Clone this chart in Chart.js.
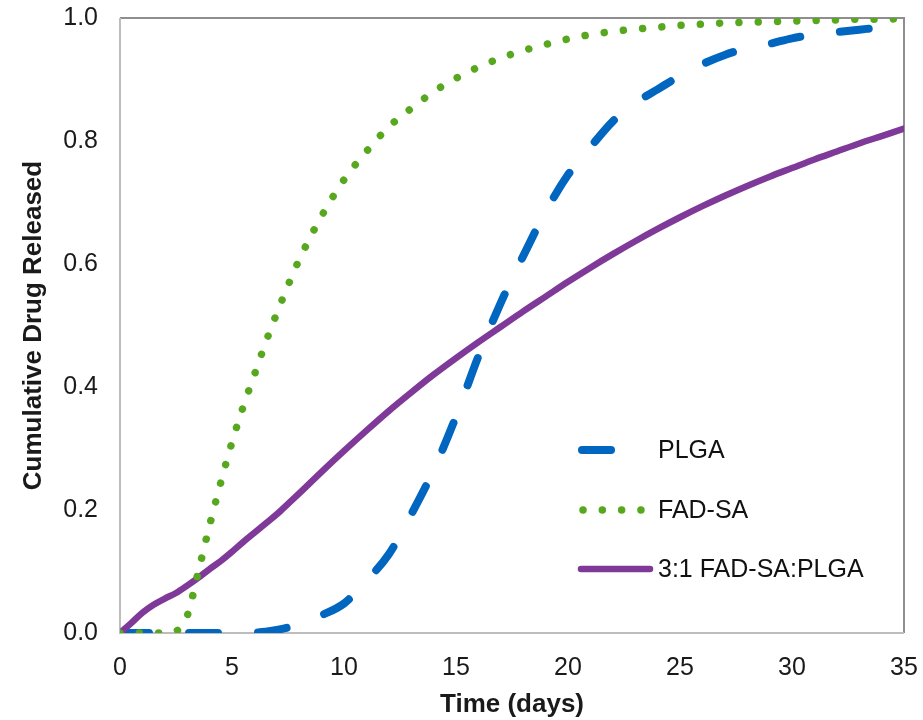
<!DOCTYPE html>
<html>
<head>
<meta charset="utf-8">
<title>Cumulative Drug Released</title>
<script src="https://cdn.jsdelivr.net/npm/chart.js"></script>
<style>
    html, body { margin: 0; padding: 0; background: #fff; }
    #wrap { width: 923px; height: 720px; }
</style>
</head>
<body>
<div id="wrap"><canvas id="releaseChart" width="923" height="720"></canvas></div>
<script>
// days sampled (half days while the curves bend fast)
const days = [0, 0.5, 1, 1.5, 2, 2.5, 3, 3.5, 4, 4.5, 5, 5.5, 6, 6.5, 7, 7.5, 8,
    9, 10, 11, 12, 13, 14, 15, 16, 17, 18, 19, 20, 21, 22, 23, 24, 25, 26, 27,
    28, 29, 30, 31, 32, 33, 34, 35];

const plga = [0, 0, 0, 0, 0, 0, 0, 0, 0, 0, 0, 0, 0.0005, 0.002, 0.005, 0.009, 0.015,
    0.029, 0.048, 0.085, 0.128, 0.193, 0.265, 0.352, 0.45, 0.537, 0.613, 0.685, 0.745,
    0.79, 0.832, 0.862, 0.884, 0.906, 0.925, 0.94, 0.951, 0.958, 0.967, 0.973, 0.977,
    0.981, 0.985, 0.99];

const fadSa = [0, 0, 0, 0, 0, 0.003, 0.028, 0.1, 0.175, 0.245, 0.31, 0.368, 0.42, 0.472,
    0.52, 0.565, 0.607, 0.678, 0.737, 0.783, 0.823, 0.853, 0.88, 0.902, 0.92, 0.935,
    0.947, 0.957, 0.966, 0.973, 0.978, 0.982, 0.985, 0.988, 0.99, 0.992, 0.993, 0.994,
    0.995, 0.996, 0.997, 0.998, 0.998, 0.999];

const blend = [0, 0.016, 0.033, 0.046, 0.056, 0.065, 0.077, 0.09, 0.104, 0.117, 0.132,
    0.148, 0.163, 0.178, 0.193, 0.21, 0.227, 0.262, 0.296, 0.329, 0.361, 0.391, 0.42,
    0.447, 0.473, 0.498, 0.523, 0.547, 0.571, 0.594, 0.616, 0.637, 0.657, 0.676, 0.694,
    0.711, 0.727, 0.742, 0.756, 0.77, 0.783, 0.796, 0.808, 0.82];

const seriesNames = ['PLGA', 'FAD-SA', '3:1 FAD-SA:PLGA'];
const xTicks = [0, 5, 10, 15, 20, 25, 30, 35];
const yTicks = [0, 0.2, 0.4, 0.6, 0.8, 1.0];

const toPoints = vals => days.map((d, i) => ({ x: d, y: vals[i] }));

Chart.defaults.font.family = '"Liberation Sans", Arial, sans-serif';
Chart.defaults.color = '#1a1a1a';

// plot box, drawn under the curves
const frame = {
    id: 'frame',
    beforeDatasetsDraw(chart) {
        const { ctx, chartArea: a } = chart;
        ctx.save();
        ctx.lineWidth = 2;
        ctx.strokeStyle = '#8e8e8e';
        ctx.beginPath();
        ctx.moveTo(a.left, a.top);
        ctx.lineTo(a.right, a.top);
        ctx.lineTo(a.right, a.bottom);
        ctx.stroke();
        ctx.strokeStyle = '#bdbdbd';
        ctx.beginPath();
        ctx.moveTo(a.left, a.top);
        ctx.lineTo(a.left, a.bottom);
        ctx.lineTo(a.right, a.bottom);
        ctx.stroke();
        ctx.restore();
    }
};

// legend sits inside the plot, lower right
const insideLegend = {
    id: 'insideLegend',
    afterDraw(chart) {
        const ctx = chart.ctx;
        const rows = [450, 510, 569];
        const spans = [[582, 611], [583, 642], [581, 650]];
        ctx.save();
        chart.data.datasets.forEach((ds, i) => {
            const y = rows[i];
            ctx.strokeStyle = ds.borderColor;
            ctx.lineWidth = ds.borderWidth;
            ctx.lineCap = 'round';
            ctx.setLineDash(i === 1 ? ds.borderDash : []);
            ctx.beginPath();
            ctx.moveTo(spans[i][0], y);
            ctx.lineTo(spans[i][1], y);
            ctx.stroke();
            ctx.setLineDash([]);
            ctx.fillStyle = '#111';
            ctx.font = '25px "Liberation Sans", Arial, sans-serif';
            ctx.textBaseline = 'middle';
            ctx.fillText(ds.label, 658, y + 1);
        });
        ctx.restore();
    }
};

document.addEventListener('DOMContentLoaded', function() {
    const ctx = document.getElementById('releaseChart').getContext('2d');
    new Chart(ctx, {
        type: 'line',
        data: {
            datasets: [{
                label: seriesNames[0],
                data: toPoints(plga),
                borderColor: '#0066c0',
                borderWidth: 8,
                borderDash: [29, 40],
                borderCapStyle: 'round',
                order: 3
            }, {
                label: seriesNames[1],
                data: toPoints(fadSa),
                borderColor: '#57a81e',
                borderWidth: 7.5,
                borderDash: [0.01, 19.3],
                borderCapStyle: 'round',
                order: 1
            }, {
                label: seriesNames[2],
                data: toPoints(blend),
                borderColor: '#7f3a99',
                borderWidth: 6.5,
                borderCapStyle: 'round',
                order: 2
            }]
        },
        options: {
            responsive: false,
            animation: false,
            layout: { padding: { top: 18, right: 19, left: 0, bottom: 0 } },
            elements: {
                point: { radius: 0, hoverRadius: 0 },
                line: { cubicInterpolationMode: 'monotone', fill: false }
            },
            plugins: {
                legend: { display: false },
                tooltip: { enabled: false }
            },
            scales: {
                x: {
                    type: 'linear',
                    min: 0,
                    max: 35,
                    afterBuildTicks: axis => { axis.ticks = xTicks.map(v => ({ value: v })); },
                    afterFit: axis => {
                        axis.height = 87;
                        axis.paddingLeft = 0;
                        axis.paddingRight = 0;
                    },
                    grid: { display: false, drawTicks: false },
                    border: { display: false },
                    ticks: { font: { size: 25 }, padding: 20, maxRotation: 0 },
                    title: {
                        display: true,
                        text: 'Time (days)',
                        font: { size: 26, weight: 'bold' },
                        padding: { top: 0, bottom: 0 }
                    }
                },
                y: {
                    min: 0,
                    max: 1,
                    afterBuildTicks: axis => { axis.ticks = yTicks.map(v => ({ value: v })); },
                    afterFit: axis => {
                        axis.width = 120;
                        axis.paddingTop = 0;
                        axis.paddingBottom = 0;
                    },
                    grid: { display: false, drawTicks: false },
                    border: { display: false },
                    ticks: {
                        font: { size: 25 },
                        padding: 22,
                        callback: v => Number(v).toFixed(1)
                    },
                    title: {
                        display: true,
                        text: 'Cumulative Drug Released',
                        font: { size: 26, weight: 'bold' },
                        padding: { top: 18, bottom: 0 }
                    }
                }
            }
        },
        plugins: [frame, insideLegend]
    });
});
</script>
</body>
</html>
